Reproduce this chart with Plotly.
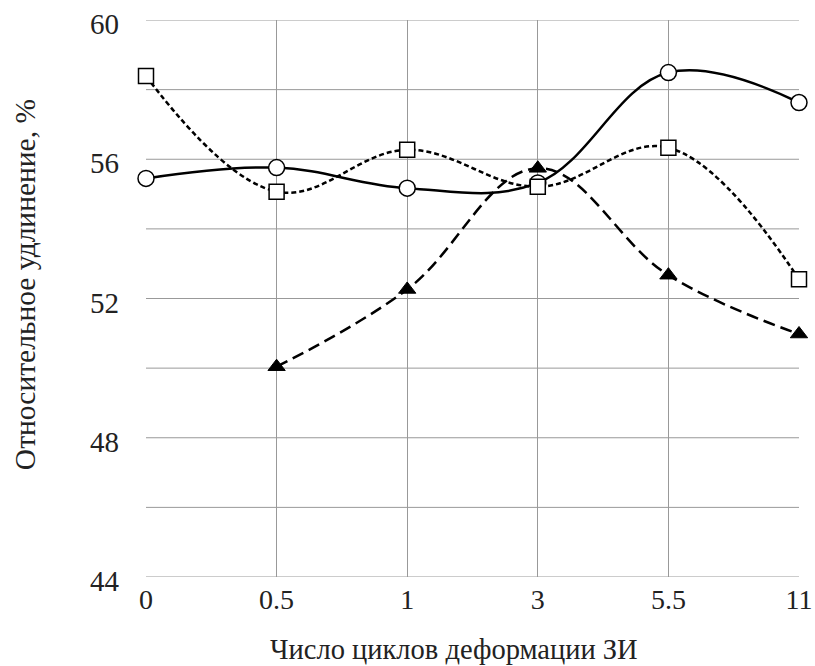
import plotly.graph_objects as go

categories = ["0", "0.5", "1", "3", "5.5", "11"]
circles = [55.45, 55.76, 55.17, 55.32, 58.49, 57.63]
squares = [58.39, 55.07, 56.27, 55.21, 56.33, 52.55]
tri_categories = ["0.5", "1", "3", "5.5", "11"]
triangles = [50.04, 52.26, 55.74, 52.67, 50.98]
y_ticks = [44, 48, 52, 56, 60]
x_title = "Число циклов деформации ЗИ"
y_title = "Относительное удлинение, %"

fig = go.Figure()
fig.add_trace(go.Scatter(
    x=categories, y=circles, mode="lines+markers", cliponaxis=False,
    line=dict(color="black", width=2.5, shape="spline", smoothing=1.1),
    marker=dict(symbol="circle", size=16, color="white", line=dict(color="black", width=1.5)),
    showlegend=False))
fig.add_trace(go.Scatter(
    x=tri_categories, y=triangles, mode="lines+markers", cliponaxis=False,
    line=dict(color="black", width=2.5, shape="spline", smoothing=1.1, dash="12px,6px"),
    marker=dict(symbol="triangle-up", size=15, color="black", line=dict(color="black", width=1)),
    showlegend=False))
fig.add_trace(go.Scatter(
    x=categories, y=squares, mode="lines+markers", cliponaxis=False,
    line=dict(color="black", width=2.5, shape="spline", smoothing=1.1, dash="5px,3px"),
    marker=dict(symbol="square", size=15, color="white", line=dict(color="black", width=1.5)),
    showlegend=False))

font_family = "Liberation Serif, Times New Roman, serif"
fig.update_layout(
    width=815, height=666,
    margin=dict(l=146, r=16, t=20, b=89, autoexpand=False),
    paper_bgcolor="white", plot_bgcolor="white",
    font=dict(family=font_family, size=29, color="#222"),
    xaxis=dict(
        type="category", categoryorder="array", categoryarray=categories,
        range=[0, 5], showgrid=True, gridcolor="#999", gridwidth=1,
        zeroline=False, showline=False, ticks="", automargin=False,
        ticklabelstandoff=3,
        tickfont=dict(size=28, family=font_family, color="#222"),
    ),
    yaxis=dict(
        range=[44, 60], tickvals=y_ticks, automargin=False,
        showgrid=False, zeroline=False, showline=False, ticks="",
        ticklabelstandoff=26, ticklabelshift=4,
        tickfont=dict(size=29, family=font_family, color="#222"),
    ),
    annotations=[
        dict(text=x_title, xref="paper", yref="paper", x=0.4717, y=-0.131,
             xanchor="center", yanchor="middle", showarrow=False,
             font=dict(size=28.5, family=font_family, color="#222")),
        dict(text=y_title, xref="paper", yref="paper", x=0, xshift=-121,
             y=0.524, xanchor="center", yanchor="middle", textangle=-90,
             showarrow=False,
             font=dict(size=29.5, family=font_family, color="#222")),
    ],
)
# horizontal gridlines every 2 units
for v in range(44, 61, 2):
    fig.add_shape(type="line", xref="paper", x0=0, x1=1, yref="y", y0=v, y1=v,
                  line=dict(color="#999", width=1), layer="below")

fig.write_html("out.html")
